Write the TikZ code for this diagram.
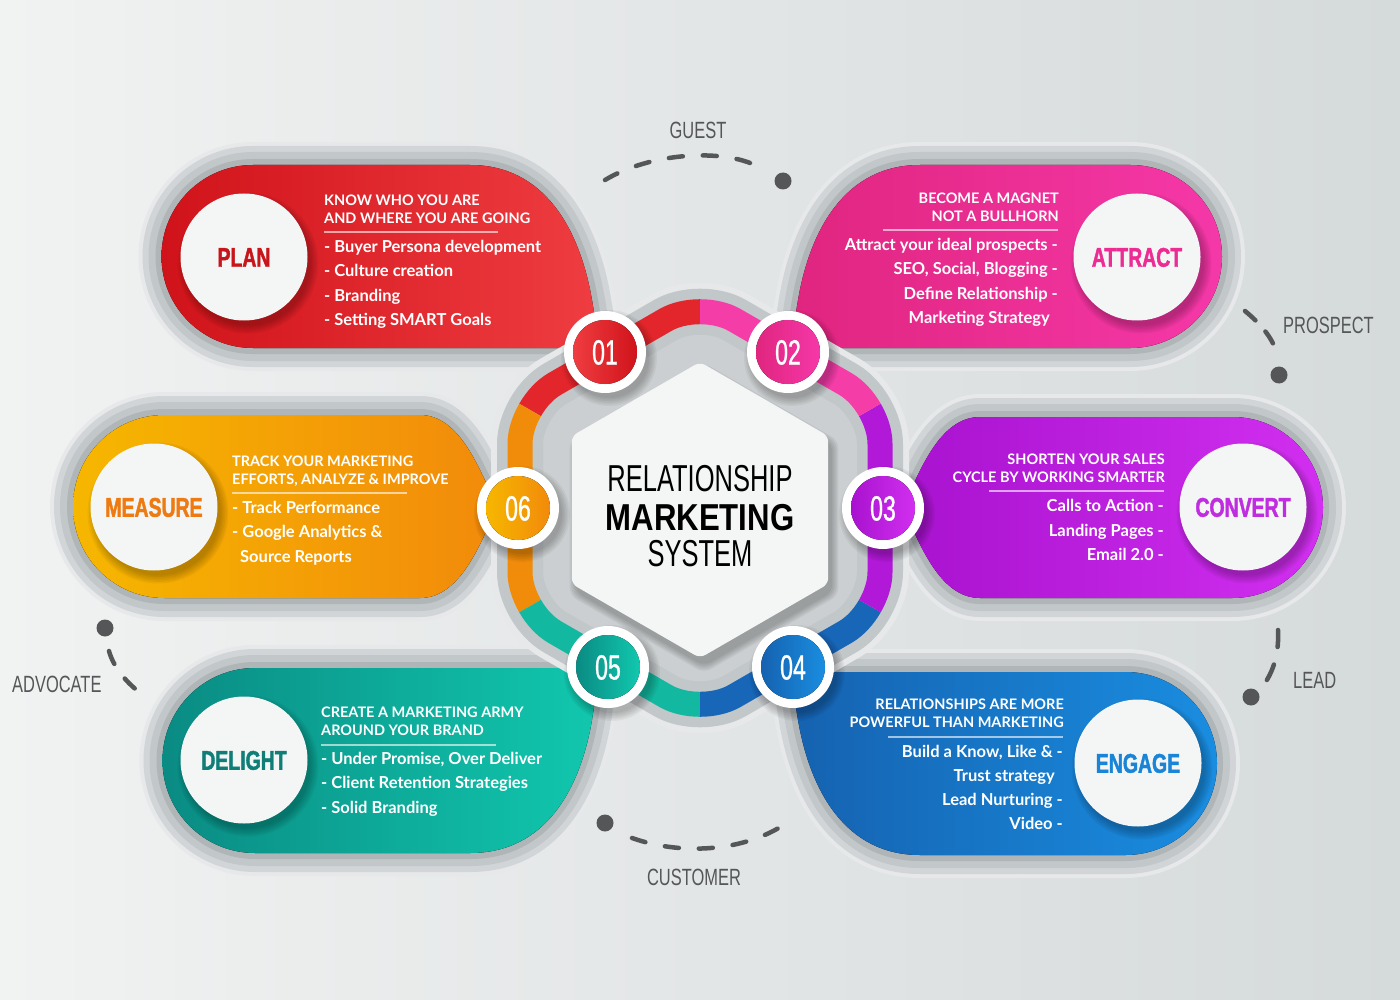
\documentclass[tikz,border=0pt]{standalone}
\usepackage{fontspec}
\setmainfont{Lato}
\newfontfamily\labf[FakeStretch=0.70]{Liberation Sans}
\newfontfamily\numf[FakeStretch=0.66,FakeBold=0.8]{Liberation Sans}
\newfontfamily\cenf[FakeStretch=0.68]{Liberation Sans}
\newfontfamily\cenbf[FakeStretch=0.83]{Liberation Sans}
\newfontfamily\headf[FakeStretch=0.72,FakeBold=1.6]{Liberation Sans}

\definecolor{bgL}{HTML}{F1F2F2}
\definecolor{bgR}{HTML}{D5DADB}
\definecolor{rimA}{HTML}{E6E8E9}
\definecolor{rimB}{HTML}{D1D5D7}
\definecolor{rimC}{HTML}{C2C7C9}
\definecolor{rimD}{HTML}{B0B5B7}
\definecolor{diskW}{HTML}{F4F5F5}
\definecolor{planL}{HTML}{D0131A}
\definecolor{planR}{HTML}{EF3D41}
\definecolor{attrL}{HTML}{E0257F}
\definecolor{attrR}{HTML}{F538A8}
\definecolor{measL}{HTML}{F6B700}
\definecolor{measR}{HTML}{F28A0B}
\definecolor{convL}{HTML}{A812CF}
\definecolor{convR}{HTML}{D22FF0}
\definecolor{delL}{HTML}{0A8B83}
\definecolor{delR}{HTML}{11C8AE}
\definecolor{engL}{HTML}{1562B0}
\definecolor{engR}{HTML}{1A8DE0}
\definecolor{ringRed}{HTML}{E3262B}
\definecolor{ringPink}{HTML}{F53DA8}
\definecolor{ringPurple}{HTML}{B218D8}
\definecolor{ringBlue}{HTML}{1766B8}
\definecolor{ringTeal}{HTML}{12B9A0}
\definecolor{ringOrange}{HTML}{F08C0A}
\definecolor{planT}{HTML}{C8151B}
\definecolor{attrT}{HTML}{EC2B93}
\definecolor{measT}{HTML}{EE7A12}
\definecolor{convT}{HTML}{C02CE0}
\definecolor{delT}{HTML}{0E7E77}
\definecolor{engT}{HTML}{1A85D6}
\definecolor{labG}{HTML}{555657}
\definecolor{inGray}{HTML}{CBCFD1}

\tikzset{
  bul/.style={text=white, font=\bfseries\fontsize{16.5}{18}\selectfont, inner sep=0pt, text height=11.8pt, text depth=0pt},
  ttl/.style={text=white, font=\bfseries\fontsize{14.5}{16}\selectfont, inner sep=0pt, text height=10.4pt, text depth=0pt},
  disk/.style={circle, fill=diskW, minimum size=127pt, inner sep=0pt, text height=19.5pt, text depth=0pt, font=\headf\bfseries\fontsize{27}{28}\selectfont},
  numc/.style={circle, fill=white, minimum size=82pt, inner sep=0pt},
  numt/.style={text=white, font=\numf\fontsize{35}{36}\selectfont, inner sep=0pt, text height=25pt, text depth=0pt},
  lab/.style={text=labG, font=\labf\fontsize{23.5}{24}\selectfont, inner sep=0pt, text height=17pt, text depth=0pt},
  cen/.style={text=black, inner sep=0pt, text height=27pt, text depth=0pt},
  sepline/.style={draw=white, draw opacity=0.6, line width=1.2pt},
  arcline/.style={draw=labG, line width=4.5pt, line cap=round, dash pattern=on 14pt off 20pt},
  arcdot/.style={fill=labG}
}

\def\plan{(253,165) -- (470,165) .. controls (545,165) and (580,230) .. (592,300) -- (600,348) -- (253,348) arc[start angle=90, end angle=270, radius=91.5] -- cycle}
\def\delight{(255,853) -- (470,853) .. controls (545,853) and (580,790) .. (592,720) -- (600,668) -- (255,668) arc[start angle=270, end angle=90, radius=92.5] -- cycle}
\def\attract{(1130.5,165) -- (920,165) .. controls (845,165) and (810,230) .. (798,300) -- (790,348) -- (1130.5,348) arc[start angle=90, end angle=-90, radius=91.5] -- cycle}
\def\engage{(1125.5,855) -- (920,855) .. controls (845,855) and (810,790) .. (798,720) -- (790,672) -- (1125.5,672) arc[start angle=-90, end angle=90, radius=91.5] -- cycle}
\def\measure{(164.5,598) arc[start angle=90, end angle=270, radius=91.5] -- (420,415) .. controls (460,415) and (480,470) .. (497,507) .. controls (480,545) and (460,598) .. (420,598) -- cycle}
\def\convert{(1232.5,417) arc[start angle=-90, end angle=90, radius=90.5] -- (980,598) .. controls (940,598) and (920,545) .. (903,507.5) .. controls (920,470) and (940,417) .. (980,417) -- cycle}
\def\ringpath{(520,508) -- (520,404) -- (700,300) -- (880,404) -- (880,612) -- (700,716) -- (520,612) -- cycle}
\def\whitehex{(700,362) -- (828.2,436) -- (828.2,584) -- (700,658) -- (571.8,584) -- (571.8,436) -- cycle}

\newcommand\cardrim[1]{%
  \draw[rimA, line width=46pt, line join=round] #1;
  \draw[rimB, line width=38pt, line join=round] #1;
  \draw[rimC, line width=26pt, line join=round] #1;
  \draw[rimD, line width=12pt, line join=round] #1;
}
\newcommand\dshadow[3]{%
  \foreach \k in {0,...,5}{\fill[black, opacity=0.045] (#1+4,#2+6) circle[radius=#3+7-\k*1.6];}%
}

\begin{document}
\begin{tikzpicture}[x=1pt,y=1pt,yscale=-1]
\useasboundingbox (0,0) rectangle (1400,1000);
\fill[left color=bgL, right color=bgR] (0,0) rectangle (1400,1000);

% card rims
\cardrim{\plan}
\cardrim{\attract}
\cardrim{\measure}
\cardrim{\convert}
\cardrim{\delight}
\cardrim{\engage}

% card bodies
\fill[left color=planL, right color=planR] \plan;
\fill[left color=attrL, right color=attrR] \attract;
\fill[left color=measL, right color=measR] \measure;
\fill[left color=convL, right color=convR] \convert;
\fill[left color=delL, right color=delR] \delight;
\fill[left color=engL, right color=engR] \engage;

% white disks
\dshadow{244}{257}{63.5}
\node[disk, text=planT] (plan) at (244,257) {PLAN};
\dshadow{1137}{257}{63.5}
\node[disk, text=attrT] (attract) at (1137,257) {ATTRACT};
\dshadow{154}{507}{63.5}
\node[disk, text=measT] (measure) at (154,507) {MEASURE};
\dshadow{1243}{507}{63.5}
\node[disk, text=convT] (convert) at (1243,507) {CONVERT};
\dshadow{244}{760}{63.5}
\node[disk, text=delT] (delight) at (244,760) {DELIGHT};
\dshadow{1138}{763}{63.5}
\node[disk, text=engT] (engage) at (1138,763) {ENGAGE};

% PLAN texts
\node[ttl, anchor=west] (p1) at (324,200) {KNOW WHO YOU ARE};
\node[ttl, anchor=west] (p2) at (324,218) {AND WHERE YOU ARE GOING};
\draw[sepline] (324,232) -- (498,232);
\node[bul, anchor=west] (p3) at (324,247) {- Buyer Persona development};
\node[bul, anchor=west] (p4) at (324,271) {- Culture creation};
\node[bul, anchor=west] (p5) at (324,296) {- Branding};
\node[bul, anchor=west] (p6) at (324,320) {- Setting SMART Goals};

% ATTRACT texts
\node[ttl, anchor=east] (a1) at (1059,198) {BECOME A MAGNET};
\node[ttl, anchor=east] (a2) at (1059,216) {NOT A BULLHORN};
\draw[sepline] (883,230) -- (1058,230);
\node[bul, anchor=east] (a3) at (1058,245) {Attract your ideal prospects -};
\node[bul, anchor=east] (a4) at (1058,269) {SEO, Social, Blogging -};
\node[bul, anchor=east] (a5) at (1058,294) {Define Relationship -};
\node[bul, anchor=east] (a6) at (1050,318) {Marketing Strategy};

% MEASURE texts
\node[ttl, anchor=west] (m1) at (232,461) {TRACK YOUR MARKETING};
\node[ttl, anchor=west] (m2) at (232,479) {EFFORTS, ANALYZE \& IMPROVE};
\draw[sepline] (232,493) -- (407,493);
\node[bul, anchor=west] (m3) at (232,508) {- Track Performance};
\node[bul, anchor=west] (m4) at (232,532) {- Google Analytics \&};
\node[bul, anchor=west] (m5) at (240,557) {Source Reports};

% CONVERT texts
\node[ttl, anchor=east] (v1) at (1165,459) {SHORTEN YOUR SALES};
\node[ttl, anchor=east] (v2) at (1165,477) {CYCLE BY WORKING SMARTER};
\draw[sepline] (989,491) -- (1164,491);
\node[bul, anchor=east] (v3) at (1164,506) {Calls to Action -};
\node[bul, anchor=east] (v4) at (1164,531) {Landing Pages -};
\node[bul, anchor=east] (v5) at (1164,555) {Email 2.0 -};

% DELIGHT texts
\node[ttl, anchor=west] (d1) at (321,712) {CREATE A MARKETING ARMY};
\node[ttl, anchor=west] (d2) at (321,730) {AROUND YOUR BRAND};
\draw[sepline] (321,745) -- (496,745);
\node[bul, anchor=west] (d3) at (321,759) {- Under Promise, Over Deliver};
\node[bul, anchor=west] (d4) at (321,783) {- Client Retention Strategies};
\node[bul, anchor=west] (d5) at (321,808) {- Solid Branding};

% ENGAGE texts
\node[ttl, anchor=east] (e1) at (1064,704) {RELATIONSHIPS ARE MORE};
\node[ttl, anchor=east] (e2) at (1064,722) {POWERFUL THAN MARKETING};
\draw[sepline] (888,737) -- (1063,737);
\node[bul, anchor=east] (e3) at (1063,752) {Build a Know, Like \& -};
\node[bul, anchor=east] (e4) at (1055,776) {Trust strategy};
\node[bul, anchor=east] (e5) at (1063,800) {Lead Nurturing -};
\node[bul, anchor=east] (e6) at (1063,824) {Video -};

% ring
\draw[rimA, line width=58pt, rounded corners=40pt, line join=round] \ringpath;
\draw[rimC, line width=46pt, rounded corners=40pt, line join=round, fill=inGray] \ringpath;
\begin{scope}\clip (700,508) -- (700,108) -- (353.6,308) -- cycle;
  \draw[ringRed, line width=25pt, rounded corners=40pt] \ringpath;\end{scope}
\begin{scope}\clip (700,508) -- (353.6,308) -- (353.6,708) -- cycle;
  \draw[ringOrange, line width=25pt, rounded corners=40pt] \ringpath;\end{scope}
\begin{scope}\clip (700,508) -- (353.6,708) -- (700,908) -- cycle;
  \draw[ringTeal, line width=25pt, rounded corners=40pt] \ringpath;\end{scope}
\begin{scope}\clip (700,508) -- (700,908) -- (1046.4,708) -- cycle;
  \draw[ringBlue, line width=25pt, rounded corners=40pt] \ringpath;\end{scope}
\begin{scope}\clip (700,508) -- (1046.4,708) -- (1046.4,308) -- cycle;
  \draw[ringPurple, line width=25pt, rounded corners=40pt] \ringpath;\end{scope}
\begin{scope}\clip (700,508) -- (1046.4,308) -- (700,108) -- cycle;
  \draw[ringPink, line width=25pt, rounded corners=40pt] \ringpath;\end{scope}

% white hexagon
\foreach \k in {0,...,4}{\fill[black, opacity=0.05, rounded corners=8pt, shift={(4,8)}, scale around={1.0+\k*0.012:(700,510)}] \whitehex;}
\fill[diskW, rounded corners=6pt] \whitehex;
\node[cen, font=\cenf\fontsize{37.5}{38}\selectfont] (rel) at (700,478) {RELATIONSHIP};
\node[cen, font=\cenbf\bfseries\fontsize{37.5}{38}\selectfont] (mkt) at (700,517) {MARKETING};
\node[cen, font=\cenf\fontsize{37.5}{38}\selectfont] (sys) at (700,553) {SYSTEM};

% number circles
\dshadow{605}{352}{41}
\node[numc] (c1) at (605,352) {};
\fill[left color=planR, right color=planL] (c1.center) circle[radius=32];
\node[numt] (t1) at (c1.center) {01};
\dshadow{788}{352}{41}
\node[numc] (c2) at (788,352) {};
\fill[left color=attrL, right color=attrR] (c2.center) circle[radius=32];
\node[numt] (t2) at (c2.center) {02};
\dshadow{883}{508}{41}
\node[numc] (c3) at (883,508) {};
\fill[left color=convL, right color=convR] (c3.center) circle[radius=32];
\node[numt] (t3) at (c3.center) {03};
\dshadow{793}{667}{41}
\node[numc] (c4) at (793,667) {};
\fill[left color=engL, right color=engR] (c4.center) circle[radius=32];
\node[numt] (t4) at (c4.center) {04};
\dshadow{608}{667}{41}
\node[numc] (c5) at (608,667) {};
\fill[left color=delL, right color=delR] (c5.center) circle[radius=32];
\node[numt] (t5) at (c5.center) {05};
\dshadow{518}{508}{41}
\node[numc] (c6) at (518,508) {};
\fill[left color=measL, right color=measR] (c6.center) circle[radius=32];
\node[numt] (t6) at (c6.center) {06};

% outer stage arcs
\node[lab] (guest) at (698,130) {GUEST};
\draw[arcline] (605,180) .. controls (655,150) and (735,148) .. (765,171);
\fill[arcdot] (783,181) circle[radius=8.5];

\node[lab, anchor=west] (prospect) at (1283,325) {PROSPECT};
\draw[arcline, dash pattern=on 14pt off 15pt] (1245,311) .. controls (1262,325) and (1274,340) .. (1277,355);
\fill[arcdot] (1279,375) circle[radius=8.5];

\node[lab, anchor=west] (lead) at (1293,680) {LEAD};
\draw[arcline, dash pattern=on 17pt off 18pt] (1278,630) .. controls (1279,650) and (1275,668) .. (1265,683);
\fill[arcdot] (1251,697) circle[radius=8.5];

\node[lab] (customer) at (694,877) {CUSTOMER};
\fill[arcdot] (605,823) circle[radius=8.5];
\draw[arcline] (632,838) .. controls (680,855) and (740,852) .. (782,826);

\node[lab, anchor=west] (advocate) at (12,684) {ADVOCATE};
\fill[arcdot] (105,628) circle[radius=8.5];
\draw[arcline, dash pattern=on 14pt off 18pt] (109,651) .. controls (113,666) and (125,681) .. (139,692);
\end{tikzpicture}
\end{document}
